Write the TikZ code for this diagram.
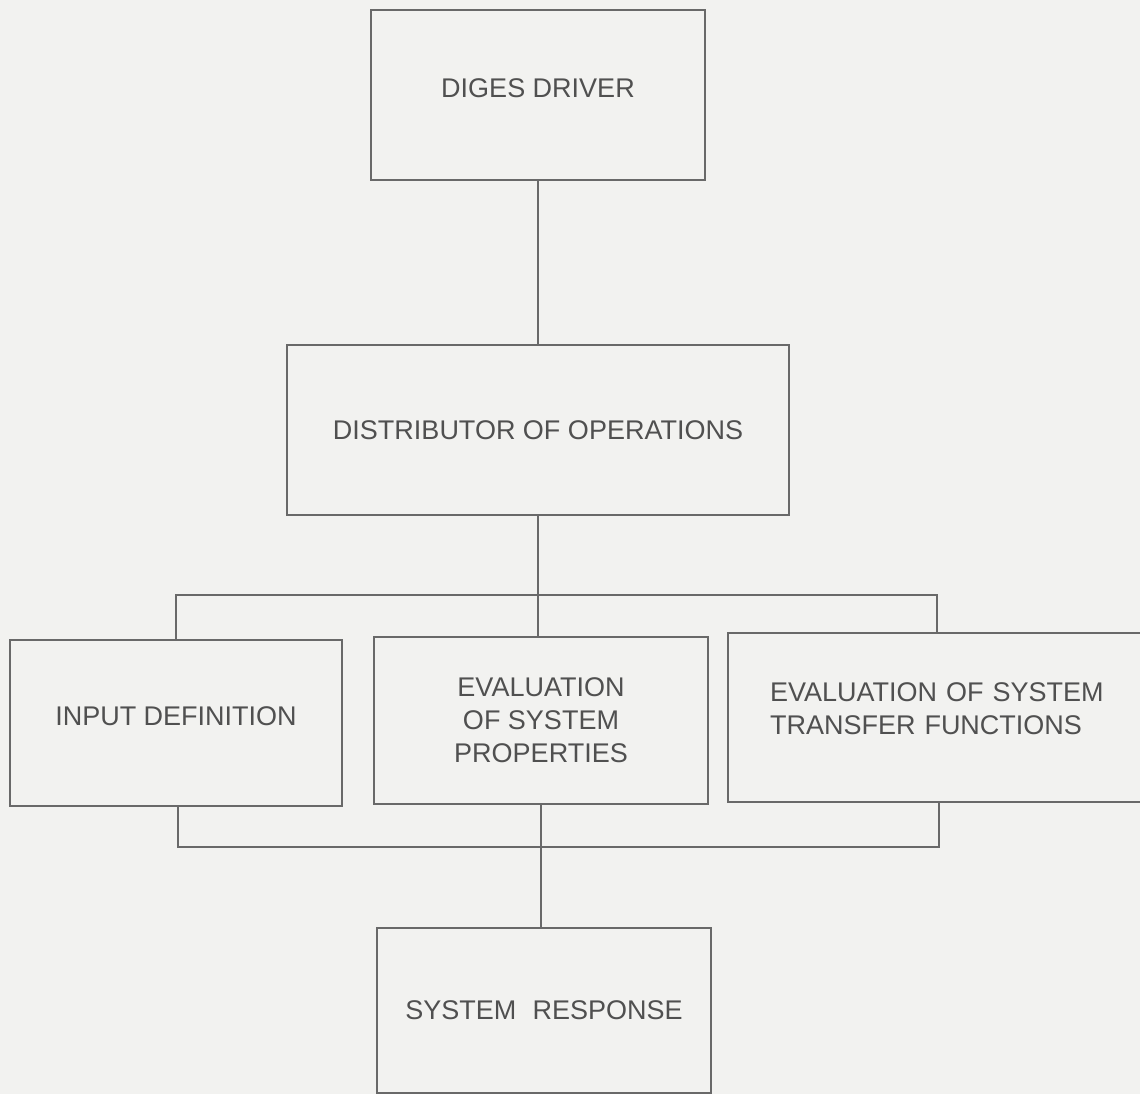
\documentclass[tikz,border=0pt]{standalone}
\usepackage{fontspec}
\setmainfont{Liberation Sans}
\definecolor{paper}{RGB}{242,242,240}
\definecolor{ink}{RGB}{105,105,105}
\definecolor{txt}{RGB}{80,80,80}
\newcommand{\lift}[2]{\raisebox{#1}[\height][\depth]{#2}}
\begin{document}
\begin{tikzpicture}[x=1pt,y=-1pt,
  box/.style={draw=ink, line width=2pt, rectangle, inner sep=0pt,
    text=txt, align=center, font=\fontsize{27}{33}\selectfont},
  link/.style={draw=ink, line width=2pt}]
  % page
  \fill[paper] (0,0) rectangle (1140,1094);
  \useasboundingbox (0,0) rectangle (1140,1094);

  % blocks
  \node[box, minimum width=334pt, minimum height=170pt] (diges) at (538,95) {\lift{7pt}{DIGES DRIVER}};
  \node[box, minimum width=502pt, minimum height=170pt] (dist) at (538,430) {DISTRIBUTOR OF OPERATIONS};
  \node[box, minimum width=332pt, minimum height=166pt] (input) at (176,723) {\lift{7pt}{INPUT DEFINITION}};
  \node[box, minimum width=334pt, minimum height=167pt] (evp) at (541,720.5) {EVALUATION\\OF SYSTEM\\PROPERTIES};
  \node[box, minimum width=442pt, minimum height=169pt, align=left,
        text width=358pt, inner xsep=42pt] (xfer) at (949,717.5)
        {\lift{6pt}{\begin{tabular}{@{}l@{}}EVALUATION OF SYSTEM\\TRANSFER FUNCTIONS\end{tabular}}};
  \node[box, minimum width=334pt, minimum height=165pt] (resp) at (544,1010.5) {SYSTEM\hspace{0.6em}RESPONSE};

  % bus junctions
  \coordinate (tbL) at (176,595);
  \coordinate (tbR) at (937,595);
  \coordinate (bbL) at (178,847);
  \coordinate (bbR) at (939,847);

  % connectors
  \draw[link] (diges.south) -- (dist.north);
  \draw[link] (dist.south) -- (dist.south |- evp.north);
  \draw[link] (input.north) -- (tbL) -- (tbR) -- (tbR |- xfer.north);
  \draw[link] (input.south -| bbL) -- (bbL) -- (bbR) -- (bbR |- xfer.south);
  \draw[link] (evp.south) -- (evp.south |- resp.north);
\end{tikzpicture}
\end{document}
